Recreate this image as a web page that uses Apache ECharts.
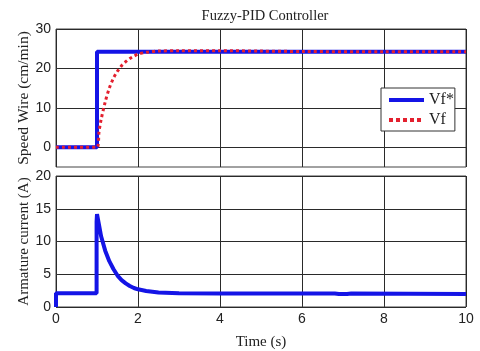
<!DOCTYPE html>
<html>
<head>
<meta charset="utf-8">
<script src="https://cdn.jsdelivr.net/npm/echarts@6/dist/echarts.min.js"></script>
<style>
  html, body { margin: 0; padding: 0; background: #fff; }
  #chart { width: 480px; height: 351px; }
</style>
</head>
<body>
<div id="chart"></div>
<script>
// reference speed Vf* (step at t = 1 s)
const refTime = [0, 1, 1, 10]
const refSpeed = [0, 0, 24.2, 24.2]

// measured speed Vf
const fbTime = [0, 1, 1.05, 1.1, 1.2, 1.3, 1.4, 1.5, 1.6, 1.7, 1.8, 1.9, 2.0, 2.2, 2.5, 3, 4, 5, 6, 8, 10]
const fbSpeed = [0, 0, 4, 7, 11.5, 15, 17.5, 19.3, 20.7, 21.7, 22.5, 23.1, 23.6, 24.1, 24.4, 24.5, 24.5, 24.4, 24.3, 24.2, 24.2]

// armature current
const curTime = [0, 0, 0.99, 0.99, 1.0, 1.05, 1.1, 1.2, 1.3, 1.4, 1.5, 1.6, 1.7, 1.8, 1.9, 2.0, 2.2, 2.5, 3, 4, 6.8, 6.9, 7.1, 7.2, 10]
const curValues = [0, 2.1, 2.1, 13, 14.2, 12.5, 10.8, 8.6, 7.0, 5.8, 4.8, 4.1, 3.6, 3.2, 2.9, 2.7, 2.45, 2.2, 2.1, 2.05, 2.05, 1.97, 1.97, 2.05, 2.0]

const xTicks = [0, 2, 4, 6, 8, 10]
const speedTicks = [0, 10, 20, 30]

const zip = (xs, ys) => xs.map((x, i) => [x, ys[i]])

const serif = '"Liberation Serif", "DejaVu Serif", serif'
const sans = '"Liberation Sans", Arial, sans-serif'
const gridLine = { show: true, lineStyle: { color: '#2a2a2a', width: 1 } }

const chart = echarts.init(document.getElementById('chart'))
chart.setOption({
  animation: false,
  title: {
    text: 'Fuzzy-PID Controller',
    left: 260,
    textAlign: 'center',
    top: 4,
    textStyle: { fontFamily: serif, fontSize: 14.5, fontWeight: 'normal', color: '#222' },
  },
  legend: {
    data: [
      { name: 'Vf*', lineStyle: { width: 4 } },
      { name: 'Vf', lineStyle: { width: 4, type: [4, 3] } },
    ],
    orient: 'vertical',
    left: 381,
    top: 88,
    padding: [4, 1, 3, 6],
    itemWidth: 35,
    itemHeight: 14,
    itemGap: 4,
    itemStyle: { opacity: 0 },
    backgroundColor: '#fff',
    borderColor: '#333',
    borderWidth: 1,
    borderRadius: 0,
    textStyle: { fontFamily: serif, fontSize: 16, color: '#222' },
  },
  grid: [
    { left: 56, top: 29, width: 410, height: 138, show: true, borderColor: '#444', borderWidth: 1 },
    { left: 56, top: 176, width: 410, height: 136, show: true, borderColor: '#444', borderWidth: 1 },
  ],
  xAxis: [
    {
      gridIndex: 0, type: 'value', min: 0, max: 10, interval: 2,
      axisLine: { show: false },
      axisTick: { show: true, inside: true, length: 3, lineStyle: { color: '#333' } },
      axisLabel: { show: false },
      splitLine: gridLine,
    },
    {
      gridIndex: 1, type: 'value', min: 0, max: 10, interval: 2,
      name: 'Time (s)', nameLocation: 'middle', nameGap: 28,
      nameTextStyle: { fontFamily: serif, fontSize: 15, color: '#222' },
      axisLine: { show: false },
      axisTick: { show: true, inside: true, length: 3, lineStyle: { color: '#333' } },
      axisLabel: { fontFamily: sans, fontSize: 14, color: '#222', margin: 5,
        formatter: v => xTicks.includes(v) ? String(v) : '' },
      splitLine: gridLine,
    },
  ],
  yAxis: [
    {
      gridIndex: 0, type: 'value', min: -5, max: 30,
      name: 'Speed Wire (cm/min)', nameLocation: 'middle', nameGap: 24, nameMoveOverlap: false,
      nameTextStyle: { fontFamily: serif, fontSize: 15.5, color: '#222' },
      axisLine: { show: false },
      axisTick: { show: true, inside: true, length: 3, customValues: speedTicks, lineStyle: { color: '#333' } },
      axisLabel: { fontFamily: sans, fontSize: 14, color: '#222', margin: 5, customValues: speedTicks },
      splitLine: gridLine,
    },
    {
      gridIndex: 1, type: 'value', min: 0, max: 20, interval: 5,
      name: 'Armature current (A)', nameLocation: 'middle', nameGap: 24, nameMoveOverlap: false,
      nameTextStyle: { fontFamily: serif, fontSize: 15, color: '#222' },
      axisLine: { show: false },
      axisTick: { show: true, inside: true, length: 3, lineStyle: { color: '#333' } },
      axisLabel: { fontFamily: sans, fontSize: 14, color: '#222', margin: 5 },
      splitLine: gridLine,
    },
  ],
  series: [
    {
      name: 'Vf*', type: 'line', xAxisIndex: 0, yAxisIndex: 0,
      data: zip(refTime, refSpeed), showSymbol: false, symbol: 'none',
      color: '#1414e6',
      lineStyle: { color: '#1414e6', width: 4 },
      z: 2,
    },
    {
      name: 'Vf', type: 'line', xAxisIndex: 0, yAxisIndex: 0,
      data: zip(fbTime, fbSpeed), showSymbol: false, symbol: 'none', smooth: 0.3,
      color: '#e3202e',
      lineStyle: { color: '#e3202e', width: 3, type: [3, 3] },
      z: 3,
    },
    {
      name: 'Ia', type: 'line', xAxisIndex: 1, yAxisIndex: 1,
      data: zip(curTime, curValues), showSymbol: false, symbol: 'none',
      color: '#1414e6',
      lineStyle: { color: '#1414e6', width: 4 },
    },
  ],
})
</script>
</body>
</html>
